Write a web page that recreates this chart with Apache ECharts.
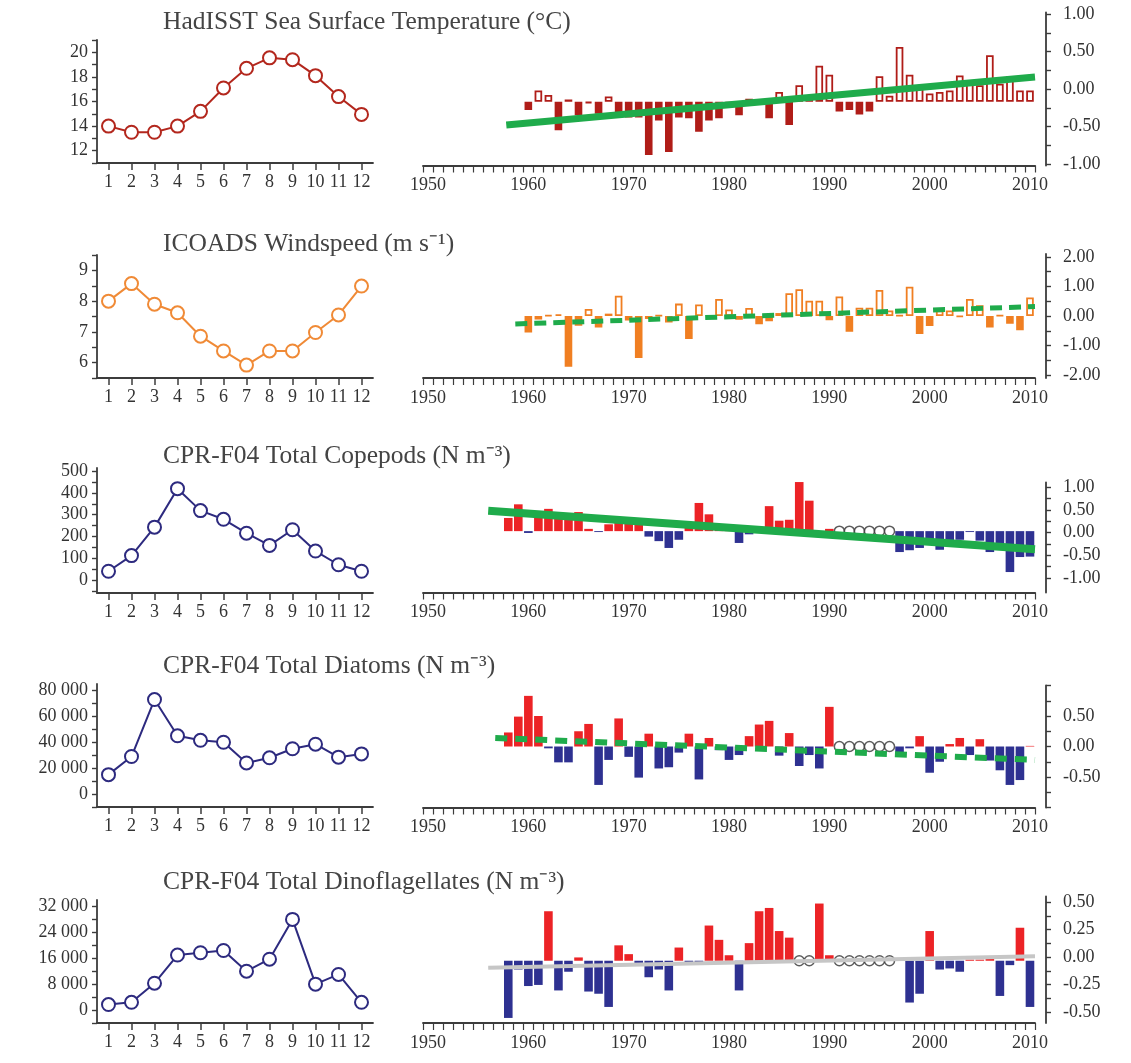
<!DOCTYPE html>
<html>
<head>
<meta charset="utf-8">
<script src="https://cdn.jsdelivr.net/npm/echarts@6/dist/echarts.min.js"></script>
<style>
  html, body { margin: 0; padding: 0; background: #fff; }
  #chart { width: 1131px; height: 1063px; }
</style>
</head>
<body>
<div id="chart"></div>
<script>
// monthly climatologies (left panels)
const months = ['1', '2', '3', '4', '5', '6', '7', '8', '9', '10', '11', '12'];
const sstMonthly = [14.0, 13.5, 13.5, 14.0, 15.2, 17.1, 18.7, 19.55, 19.4, 18.1, 16.4, 14.95];
const windMonthly = [8.0, 8.57, 7.9, 7.62, 6.86, 6.38, 5.92, 6.38, 6.38, 6.98, 7.55, 8.49];
const copepodMonthly = [40, 112, 243, 420, 319, 279, 215, 159, 231, 133, 70, 40];
const diatomMonthly = [15000, 29000, 73000, 45000, 41500, 40000, 24000, 28000, 35000, 38500, 28500, 31000];
const dinoMonthly = [1700, 2400, 8300, 17000, 17700, 18400, 12000, 15700, 28000, 8000, 11000, 2400];

// yearly anomalies 1950..2010 (right panels), null = no data
const years = [];
for (let y = 1950; y <= 2010; y++) years.push(String(y));

const sstAnomaly = [
  null, null, null, null, null, null, null, null, null, null,
  -0.11, 0.15, 0.09, -0.38, 0.03, -0.18, -0.02, -0.16, 0.07, -0.21,
  -0.21, -0.21, -0.71, -0.25, -0.67, -0.21, -0.22, -0.40, -0.25, -0.22,
  -0.03, -0.18, 0.04, 0.01, -0.22, 0.13, -0.31, 0.22, 0.08, 0.48,
  0.36, -0.13, -0.11, -0.17, -0.13, 0.34, 0.08, 0.73, 0.36, 0.22,
  0.11, 0.13, 0.15, 0.35, 0.27, 0.22, 0.62, 0.24, 0.34, 0.15, 0.15
];
const windAnomaly = [
  null, null, null, null, null, null, null, null, null, null,
  -0.56, -0.12, 0.03, 0.06, -1.72, -0.33, 0.24, -0.39, 0.08, 0.69,
  -0.15, -1.42, -0.10, 0.02, -0.22, 0.42, -0.78, 0.39, -0.05, 0.58,
  0.22, -0.13, 0.27, -0.28, -0.18, 0.10, 0.77, 0.91, 0.52, 0.52,
  -0.14, 0.66, -0.53, 0.28, 0.28, 0.88, 0.19, 0.02, 0.99, -0.61,
  -0.34, 0.19, 0.19, -0.03, 0.58, 0.36, -0.39, 0.02, -0.26, -0.48, 0.63
];
const copepodAnomaly = [
  null, null, null, null, null, null, null, null, 0.29, 0.59,
  -0.04, 0.40, 0.49, 0.34, 0.32, 0.42, 0.05, -0.02, 0.15, 0.20,
  0.22, 0.20, -0.12, -0.22, -0.37, -0.19, 0.16, 0.62, 0.37, 0.07,
  0.10, -0.26, -0.07, 0.09, 0.55, 0.23, 0.25, 1.08, 0.67, -0.13,
  0.05, null, null, null, null, null, null, -0.46, -0.42, -0.37,
  -0.21, -0.41, -0.24, -0.19, -0.02, -0.21, -0.46, -0.39, -0.90, -0.57, -0.56
];
const diatomAnomaly = [
  null, null, null, null, null, null, null, null, 0.23, 0.49,
  0.83, 0.50, -0.03, -0.26, -0.26, 0.25, 0.37, -0.63, -0.22, 0.46,
  -0.17, -0.51, 0.21, -0.36, -0.34, -0.10, 0.21, -0.54, 0.14, -0.06,
  -0.22, -0.14, 0.17, 0.36, 0.42, -0.15, 0.22, -0.32, -0.14, -0.36,
  0.65, null, null, null, null, null, null, -0.14, -0.03, 0.17,
  -0.43, -0.25, 0.04, 0.14, -0.14, 0.12, -0.23, -0.39, -0.63, -0.55, 0.01
];
const dinoAnomaly = [
  null, null, null, null, null, null, null, null, -0.52, -0.08,
  -0.23, -0.22, 0.45, -0.27, -0.10, 0.03, -0.28, -0.30, -0.42, 0.14,
  0.06, -0.02, -0.15, -0.08, -0.27, 0.12, -0.02, -0.02, 0.32, 0.19,
  0.05, -0.27, 0.16, 0.45, 0.48, 0.27, 0.21, null, null, 0.52,
  0.05, null, null, null, null, null, null, 0.02, -0.38, -0.30,
  0.27, -0.08, -0.07, -0.10, 0.01, 0.01, 0.02, -0.32, -0.04, 0.30, -0.42
];

// years without samples (open circles)
const copepodGaps = ['1991', '1992', '1993', '1994', '1995', '1996'];
const diatomGaps = ['1991', '1992', '1993', '1994', '1995', '1996'];
const dinoGaps = ['1987', '1988', '1991', '1992', '1993', '1994', '1995', '1996'];

// linear trends [year, anomaly]
const sstTrend = [[1957.8, -0.31], [2010.5, 0.33]];
const windTrend = [[1958.7, -0.27], [2010.5, 0.32]];
const copepodTrend = [[1956.0, 0.45], [2010.5, -0.40]];
const diatomTrend = [[1956.7, 0.14], [2010.5, -0.22]];
const dinoTrend = [[1956.0, -0.064], [2010.5, 0.04]];

// axis tick / label values
const sstAxisLabels = [12, 14, 16, 18, 20];
const sstAxisTicks = [11, 12, 13, 14, 15, 16, 17, 18, 19, 20, 21];
const windAxisLabels = [6, 7, 8, 9];
const windAxisTicks = [5.5, 6, 6.5, 7, 7.5, 8, 8.5, 9, 9.5];
const copepodAxisLabels = [0, 100, 200, 300, 400, 500];
const copepodAxisTicks = [-50, 0, 50, 100, 150, 200, 250, 300, 350, 400, 450, 500];
const diatomAxisLabels = [0, 20000, 40000, 60000, 80000];
const diatomAxisTicks = [-10000, 0, 10000, 20000, 30000, 40000, 50000, 60000, 70000, 80000];
const dinoAxisLabels = [0, 8000, 16000, 24000, 32000];
const dinoAxisTicks = [-4000, 0, 4000, 8000, 12000, 16000, 20000, 24000, 28000, 32000];

const sstAnomLabels = [-1, -0.5, 0, 0.5, 1];
const sstAnomTicks = [-1, -0.75, -0.5, -0.25, 0, 0.25, 0.5, 0.75, 1];
const windAnomLabels = [-2, -1, 0, 1, 2];
const windAnomTicks = [-2, -1.5, -1, -0.5, 0, 0.5, 1, 1.5, 2];
const copepodAnomLabels = [-1, -0.5, 0, 0.5, 1];
const copepodAnomTicks = [-1, -0.75, -0.5, -0.25, 0, 0.25, 0.5, 0.75, 1];
const diatomAnomLabels = [-0.5, 0, 0.5];
const diatomAnomTicks = [-1, -0.75, -0.5, -0.25, 0, 0.25, 0.5, 0.75, 1];
const dinoAnomLabels = [-0.5, -0.25, 0, 0.25, 0.5];
const dinoAnomTicks = [-0.5, -0.375, -0.25, -0.125, 0, 0.125, 0.25, 0.375, 0.5];

const FONT = 'Liberation Serif';
const AXIS = '#3c3c3c';
const GREEN = '#1fab4b';

const panels = [
  {
    title: 'HadISST Sea Surface Temperature (°C)', monthly: sstMonthly, anomaly: sstAnomaly,
    trend: sstTrend, gaps: [], lTicks: sstAxisTicks, lLabels: sstAxisLabels,
    rTicks: sstAnomTicks, rLabels: sstAnomLabels,
    lineColor: '#b3271d', bars: 'hollow', barColor: '#b01d18',
    trendStyle: { color: GREEN, width: 7, type: 'solid' },
    titleTop: 4, lTop: 40, lH: 123, lMin: 11, lMax: 21,
    rTop: 12.5, rH: 153, rMin: -1.02, rMax: 1.02, base: -0.17
  },
  {
    title: 'ICOADS Windspeed (m s⁻¹)', monthly: windMonthly, anomaly: windAnomaly,
    trend: windTrend, gaps: [], lTicks: windAxisTicks, lLabels: windAxisLabels,
    rTicks: windAnomTicks, rLabels: windAnomLabels,
    lineColor: '#f08a36', bars: 'hollow', barColor: '#f07f22',
    trendStyle: { color: GREEN, width: 5, type: [12, 7] },
    titleTop: 226, lTop: 255, lH: 123, lMin: 5.5, lMax: 9.5,
    rTop: 254, rH: 124, rMin: -2.1, rMax: 2.1, base: 0
  },
  {
    title: 'CPR-F04 Total Copepods (N m⁻³)', monthly: copepodMonthly, anomaly: copepodAnomaly,
    trend: copepodTrend, gaps: copepodGaps, lTicks: copepodAxisTicks, lLabels: copepodAxisLabels,
    rTicks: copepodAnomTicks, rLabels: copepodAnomLabels,
    lineColor: '#2d2a7f', bars: 'redblue',
    trendStyle: { color: GREEN, width: 8, type: 'solid' },
    titleTop: 438, lTop: 468, lH: 125, lMin: -60, lMax: 515,
    rTop: 482.5, rH: 110, rMin: -1.32, rMax: 1.1, base: 0.03
  },
  {
    title: 'CPR-F04 Total Diatoms (N m⁻³)', monthly: diatomMonthly, anomaly: diatomAnomaly,
    trend: diatomTrend, gaps: diatomGaps, lTicks: diatomAxisTicks, lLabels: diatomAxisLabels,
    rTicks: diatomAnomTicks, rLabels: diatomAnomLabels,
    lineColor: '#2d2a7f', bars: 'redblue',
    trendStyle: { color: GREEN, width: 6, type: [12, 8] },
    titleTop: 648, lTop: 684, lH: 123, lMin: -10000, lMax: 85000,
    rTop: 685.5, rH: 122, rMin: -1, rMax: 1, base: 0
  },
  {
    title: 'CPR-F04 Total Dinoflagellates (N m⁻³)', monthly: dinoMonthly, anomaly: dinoAnomaly,
    trend: dinoTrend, gaps: dinoGaps, lTicks: dinoAxisTicks, lLabels: dinoAxisLabels,
    rTicks: dinoAnomTicks, rLabels: dinoAnomLabels,
    lineColor: '#2d2a7f', bars: 'redblue',
    trendStyle: { color: '#c6c6c6', width: 4, type: 'solid' },
    titleTop: 864, lTop: 900, lH: 123, lMin: -4000, lMax: 34000,
    rTop: 896.5, rH: 126.5, rMin: -0.6, rMax: 0.55, base: -0.034
  }
];

function fmtThousands(v) {
  const s = String(Math.round(v));
  return s.length > 3 ? s.slice(0, -3) + ' ' + s.slice(-3) : s;
}

const labelStyle = { fontFamily: FONT, fontSize: 18, color: '#333' };
const axisLine = { show: true, onZero: false, lineStyle: { color: AXIS, width: 1.8 } };

const option = {
  animation: false,
  backgroundColor: '#fff',
  title: [], grid: [], xAxis: [], yAxis: [], series: []
};

panels.forEach((p, r) => {
  option.title.push({
    text: p.title, left: 158, top: p.titleTop,
    textStyle: { fontFamily: FONT, fontSize: 25.5, fontWeight: 'normal', color: '#444' }
  });
  option.grid.push({ left: 97, top: p.lTop, width: 276, height: p.lH });
  option.grid.push({ left: 423, top: p.rTop, width: 612, height: p.rH });

  // left panel axes
  option.xAxis.push({
    type: 'category', gridIndex: 2 * r, data: months, boundaryGap: true,
    axisLine: axisLine,
    axisTick: { show: true, alignWithLabel: true, interval: 0, length: 7, lineStyle: { color: AXIS, width: 1.5 } },
    axisLabel: Object.assign({ margin: 10, interval: 0 }, labelStyle)
  });
  option.yAxis.push({
    type: 'value', gridIndex: 2 * r, min: p.lMin, max: p.lMax,
    axisLine: axisLine, splitLine: { show: false },
    axisTick: { show: true, length: 5, customValues: p.lTicks, lineStyle: { color: AXIS, width: 1.4 } },
    axisLabel: Object.assign({ margin: 9, customValues: p.lLabels, formatter: fmtThousands }, labelStyle)
  });

  // right panel axes
  option.xAxis.push({
    type: 'category', gridIndex: 2 * r + 1, data: years, boundaryGap: true,
    axisLine: axisLine,
    axisTick: { show: true, interval: 0, length: 7, lineStyle: { color: AXIS, width: 1.2 } },
    axisLabel: Object.assign({ margin: 11, interval: 9 }, labelStyle)
  });
  option.xAxis.push({
    type: 'value', gridIndex: 2 * r + 1, min: 1949.5, max: 2010.5, show: false
  });
  option.yAxis.push({
    type: 'value', gridIndex: 2 * r + 1, position: 'right', offset: 11,
    min: p.rMin, max: p.rMax,
    axisLine: axisLine, splitLine: { show: false },
    axisTick: { show: true, length: 5, customValues: p.rTicks, lineStyle: { color: AXIS, width: 1.4 } },
    axisLabel: Object.assign({ margin: 17, customValues: p.rLabels, formatter: v => v.toFixed(2) }, labelStyle)
  });
  option.yAxis.push({
    type: 'value', gridIndex: 2 * r + 1, min: p.rMin - p.base, max: p.rMax - p.base, show: false
  });

  // monthly climatology
  option.series.push({
    type: 'line', xAxisIndex: 3 * r, yAxisIndex: 3 * r, data: p.monthly,
    symbol: 'emptyCircle', symbolSize: 13,
    lineStyle: { color: p.lineColor, width: 2 },
    itemStyle: { color: p.lineColor, borderColor: p.lineColor, borderWidth: 2.6 }
  });

  // trend line (behind the bars)
  option.series.push({
    type: 'line', xAxisIndex: 3 * r + 2, yAxisIndex: 3 * r + 2, data: p.trend,
    symbol: 'none', silent: true, clip: false,
    lineStyle: { color: p.trendStyle.color, width: p.trendStyle.width, type: p.trendStyle.type, cap: 'butt' }
  });

  // anomaly bars
  const barItem = p.bars === 'hollow'
    ? { color: prm => (prm.value >= 0 ? '#ffffff' : p.barColor), borderColor: p.barColor, borderWidth: 1.8 }
    : { color: prm => (prm.value >= 0 ? '#ec2326' : '#2e3191') };
  option.series.push({
    type: 'bar', xAxisIndex: 3 * r + 1, yAxisIndex: 3 * r + 2, data: p.anomaly,
    barWidth: p.bars === 'hollow' ? 7.6 : 8.6, clip: false,
    itemStyle: barItem
  });

  // missing years
  if (p.gaps.length) {
    option.series.push({
      type: 'scatter', xAxisIndex: 3 * r + 1, yAxisIndex: 3 * r + 2,
      data: p.gaps.map(y => [y, 0]), symbol: 'circle', symbolSize: 10,
      itemStyle: { color: '#fff', borderColor: '#333', borderWidth: 1.5 }
    });
  }
});

const chart = echarts.init(document.getElementById('chart'), null, { renderer: 'canvas' });
chart.setOption(option);
</script>
</body>
</html>
